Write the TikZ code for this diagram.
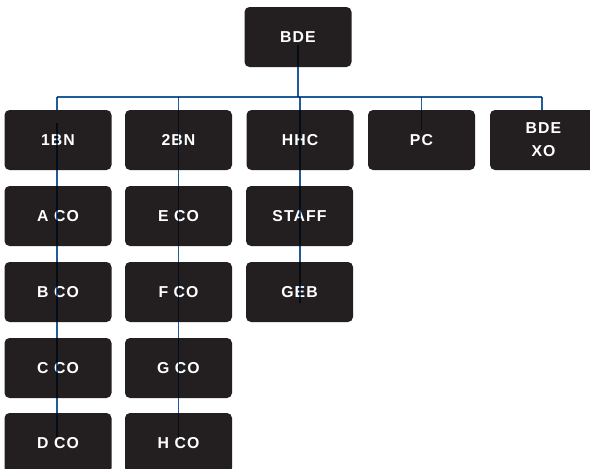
\documentclass[tikz,border=0pt]{standalone}
\usepackage{fontspec}
\setmainfont{Liberation Sans}[LetterSpace=7]
\definecolor{boxc}{RGB}{35,31,32}
\definecolor{linec}{RGB}{31,92,158}
\begin{document}
\begin{tikzpicture}[x=1pt,y=-1pt,
  box/.style={fill=boxc, rounded corners=5pt, minimum width=107pt, minimum height=60pt,
    inner sep=0pt, text=white, font=\fontsize{15.8}{23}\selectfont\bfseries, align=center},
  link/.style={draw=linec, line width=1.9pt}]
\useasboundingbox (0,0) rectangle (590,469);
\clip (0,0) rectangle (590,469);
% top
\node[box] (bde) at (298,37) {BDE};
% row 1
\node[box] (b1)  at (58,140)    {1BN};
\node[box] (b2)  at (178.5,140) {2BN};
\node[box] (hhc) at (300,140)   {HHC};
\node[box] (pc)  at (421.5,140) {PC};
\node[box] (xo)  at (543.5,140) {BDE\\XO};
% column 1
\node[box] (aco) at (58,216) {A CO};
\node[box] (bco) at (58,292) {B CO};
\node[box] (cco) at (58,368) {C CO};
\node[box] (dco) at (58,443) {D CO};
% column 2
\node[box] (eco) at (178.5,216) {E CO};
\node[box] (fco) at (178.5,292) {F CO};
\node[box] (gco) at (178.5,368) {G CO};
\node[box] (hco) at (178.5,443) {H CO};
% column 3
\node[box] (staff) at (299.5,216) {STAFF};
\node[box] (geb)   at (299.5,292) {GEB};
% connector points
\coordinate (bdeS) at ([yshift=-8pt]bde.center);
\coordinate (hub)  at (298,97);
\coordinate (hubL) at (57,97);
\coordinate (hubR) at (542,97);
\coordinate (b1S)  at ([yshift=17pt]b1.center);
\coordinate (dcoE) at ([yshift=6pt]dco.center);
\coordinate (hcoE) at ([yshift=5pt]hco.center);
\coordinate (gebE) at ([yshift=-11pt]geb.center);
\coordinate (pcE)  at ([yshift=10pt]pc.center);
\begin{scope}[blend mode=multiply]
\draw[link] (bdeS) -- (hub);
\draw[link] (hubL) -- (hubR);
\draw[link] (hubL) -- (hubL |- b1.north);
\draw[link] (hub -| b2) -- (hcoE -| b2);
\draw[link] (hub -| hhc) -- (gebE -| hhc);
\draw[link] (hub -| pc) -- (pcE);
\draw[link] (hubR) -- (hubR |- xo.north);
\draw[link] (b1S -| hubL) -- (dcoE -| hubL);
\end{scope}
\end{tikzpicture}
\end{document}
